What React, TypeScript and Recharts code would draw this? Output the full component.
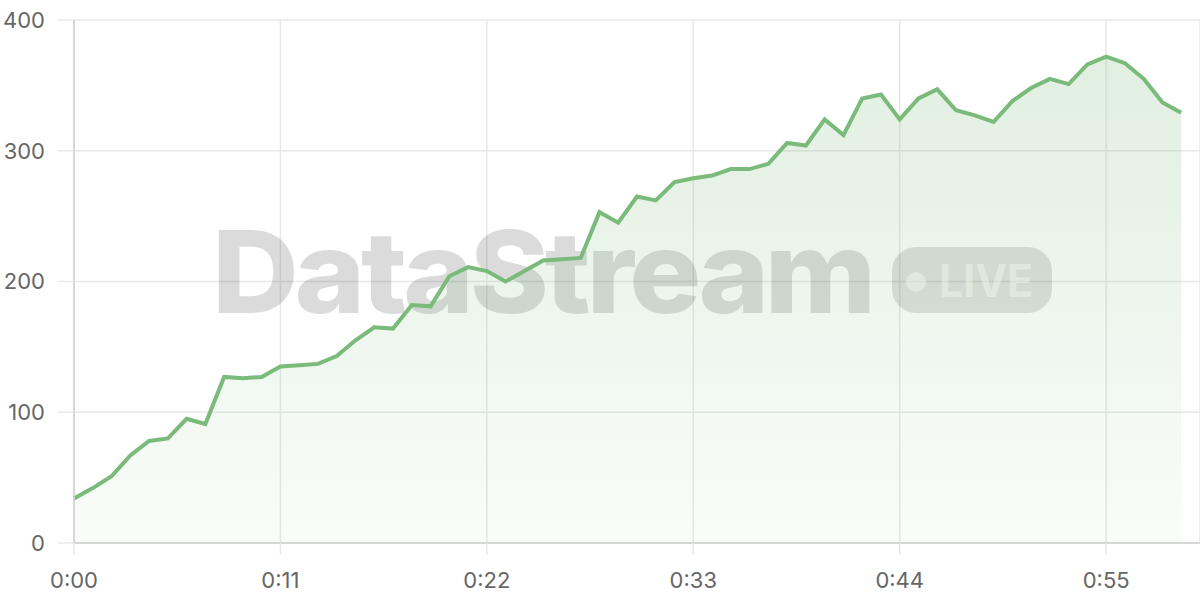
import { Area, AreaChart, CartesianGrid, Customized, XAxis, YAxis } from 'recharts'

const seconds = [
  0, 1, 2, 3, 4, 5, 6, 7, 8, 9, 10, 11, 12, 13, 14, 15, 16, 17, 18, 19,
  20, 21, 22, 23, 24, 25, 26, 27, 28, 29, 30, 31, 32, 33, 34, 35, 36, 37, 38, 39,
  40, 41, 42, 43, 44, 45, 46, 47, 48, 49, 50, 51, 52, 53, 54, 55, 56, 57, 58, 59,
]
const values = [
  34, 42, 51, 67, 78, 80, 95, 91, 127, 126, 127, 135, 136, 137, 143, 155, 165, 164, 182, 181,
  204, 211, 208, 200, 208, 216, 217, 218, 253, 245, 265, 262, 276, 279, 281, 286, 286, 290, 306, 304,
  324, 312, 340, 343, 324, 340, 347, 331, 327, 322, 338, 348, 355, 351, 366, 372, 367, 355, 337, 329,
]
const xTicks = [0, 11, 22, 33, 44, 55]
const yTicks = [0, 100, 200, 300, 400]

const data = seconds.map((t, i) => ({ t, v: values[i] }))
const fmt = (s: number) => `${Math.floor(s / 60)}:${String(s % 60).padStart(2, '0')}`

const GREEN = '#7aba7a'
const tickStyle = { fill: '#666', fontSize: 22, fontFamily: 'Inter, sans-serif' }

function Watermark() {
  return (
    <g pointerEvents="none">
      <text x={212} y={313} fontSize={114} fontWeight={800} fill="rgba(0,0,0,0.14)"
        fontFamily="Inter, sans-serif" letterSpacing={-4} textLength={660} lengthAdjust="spacingAndGlyphs">
        DataStream
      </text>
      <rect x={892} y={247} width={160} height={66} rx={24} fill="rgba(0,0,0,0.12)" />
      <circle cx={916} cy={282} r={10} fill="rgba(255,255,255,0.55)" />
      <text x={939} y={297} fontSize={45} fontWeight={700} fill="rgba(255,255,255,0.55)"
        fontFamily="Inter, sans-serif" textLength={94} lengthAdjust="spacingAndGlyphs">
        LIVE
      </text>
    </g>
  )
}

export default function App() {
  return (
    <div style={{ position: 'absolute', left: 0, top: 0, width: 1200, height: 600, background: '#fff' }}>
      <AreaChart width={1200} height={600} data={data} margin={{ top: 20, right: 0, bottom: 0, left: 0 }}>
        <defs>
          <linearGradient id="fillG" x1="0" y1="0" x2="0" y2="1">
            <stop offset="0%" stopColor={GREEN} stopOpacity={0.38} />
            <stop offset="100%" stopColor={GREEN} stopOpacity={0.07} />
          </linearGradient>
        </defs>
        <CartesianGrid stroke="#e8e8e8" strokeWidth={1.5} />
        <XAxis dataKey="t" type="number" domain={[0, 60]} ticks={xTicks} tickFormatter={fmt}
          height={57} tickSize={12} tickMargin={17} axisLine={{ stroke: '#cfcfcf', strokeWidth: 1.5 }}
          tickLine={{ stroke: '#e8e8e8', strokeWidth: 1.5 }} tick={tickStyle} />
        <YAxis domain={[0, 400]} ticks={yTicks} width={74} tickSize={16} tickMargin={13}
          axisLine={{ stroke: '#cfcfcf', strokeWidth: 1.5 }} tickLine={{ stroke: '#e8e8e8', strokeWidth: 1.5 }}
          tick={tickStyle} />
        <Customized component={Watermark} />
        <Area type="linear" dataKey="v" stroke={GREEN} strokeWidth={4} fill="url(#fillG)"
          isAnimationActive={false} dot={false} activeDot={false} />
      </AreaChart>
    </div>
  )
}
